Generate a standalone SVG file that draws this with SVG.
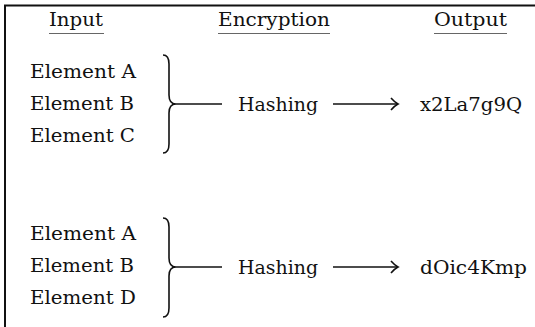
<svg xmlns="http://www.w3.org/2000/svg" width="535" height="327" viewBox="0 0 535 327">
  <defs>
    <style>
      text { font-family: "DejaVu Serif", "Liberation Serif", serif; font-size: 19px; fill: #111; }
      .ul { stroke: #666; stroke-width: 1.2; }
      .frame { stroke: #111; stroke-width: 2; fill: none; }
      .brace { stroke: #111; stroke-width: 1.6; fill: none; }
      .link { stroke: #111; stroke-width: 1.6; fill: none; }
    </style>
    <marker id="arrow" markerWidth="12" markerHeight="14" refX="10" refY="7" orient="auto" markerUnits="userSpaceOnUse">
      <path d="M3,1 Q7,5.5 10,7 Q7,8.5 3,13" fill="none" stroke="#111" stroke-width="1.6"/>
    </marker>
  </defs>

  <rect width="535" height="327" fill="#fff"/>

  <!-- frame: top and left rules -->
  <path class="frame" d="M5,327 L5,5.5 L535,5.5"/>

  <!-- column headers -->
  <g id="headers">
    <text x="49" y="26" textLength="54" lengthAdjust="spacingAndGlyphs">Input</text>
    <line class="ul" x1="49" y1="33.5" x2="104" y2="33.5"/>
    <text x="218" y="26" textLength="112" lengthAdjust="spacingAndGlyphs">Encryption</text>
    <line class="ul" x1="218" y1="33.5" x2="330" y2="33.5"/>
    <text x="434" y="26" textLength="73" lengthAdjust="spacingAndGlyphs">Output</text>
    <line class="ul" x1="434" y1="33.5" x2="507" y2="33.5"/>
  </g>

  <!-- first set of inputs -->
  <g id="inputs1">
    <text x="30" y="78" textLength="106" lengthAdjust="spacingAndGlyphs">Element A</text>
    <text x="30" y="110" textLength="104" lengthAdjust="spacingAndGlyphs">Element B</text>
    <text x="30" y="142" textLength="105" lengthAdjust="spacingAndGlyphs">Element C</text>
  </g>
  <g id="hash1">
    <text x="238" y="111" textLength="80" lengthAdjust="spacingAndGlyphs">Hashing</text>
  </g>
  <g id="out1">
    <text x="420" y="111" textLength="102" lengthAdjust="spacingAndGlyphs">x2La7g9Q</text>
  </g>

  <!-- second set of inputs -->
  <g id="inputs2">
    <text x="30" y="240" textLength="106" lengthAdjust="spacingAndGlyphs">Element A</text>
    <text x="30" y="272" textLength="104" lengthAdjust="spacingAndGlyphs">Element B</text>
    <text x="30" y="304" textLength="106" lengthAdjust="spacingAndGlyphs">Element D</text>
  </g>
  <g id="hash2">
    <text x="238" y="274" textLength="80" lengthAdjust="spacingAndGlyphs">Hashing</text>
  </g>
  <g id="out2">
    <text x="420" y="274" textLength="107" lengthAdjust="spacingAndGlyphs">dOic4Kmp</text>
  </g>

  <!-- braces, joins and arrows -->
  <g id="connectors">
    <path class="brace" d="M163,55 Q169,55 169,64 L169,95 Q169,104 176,104 Q169,104 169,113 L169,144 Q169,153 163,153"/>
    <line class="link" x1="176" y1="104" x2="222" y2="104"/>
    <line class="link" x1="333" y1="104" x2="398" y2="104" marker-end="url(#arrow)"/>

    <path class="brace" d="M163,218 Q169,218 169,227 L169,258 Q169,267 176,267 Q169,267 169,276 L169,308 Q169,317 163,317"/>
    <line class="link" x1="176" y1="267" x2="222" y2="267"/>
    <line class="link" x1="333" y1="267" x2="398" y2="267" marker-end="url(#arrow)"/>
  </g>
</svg>
